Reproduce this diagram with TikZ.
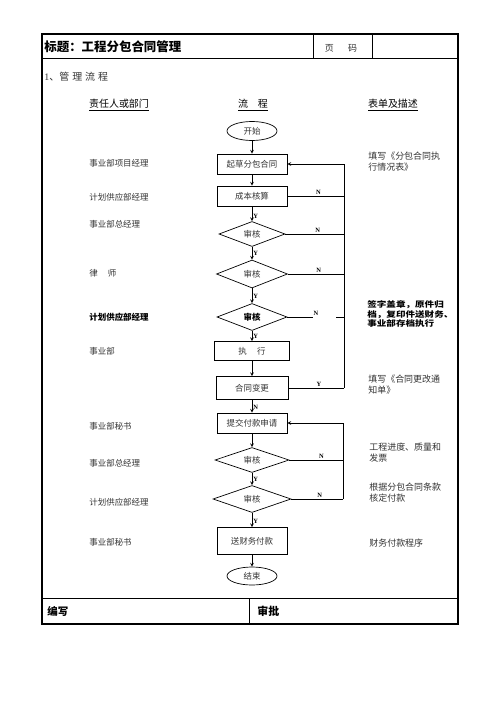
\documentclass[tikz,border=0pt]{standalone}
\usepackage{fontspec}
\setmainfont{Noto Sans CJK SC}
\newfontfamily\latinfont{Liberation Serif}
\usetikzlibrary{shapes,arrows,positioning}

\begin{document}
\begin{tikzpicture}[
        x=1bp, y=-1bp, >=stealth, line width=0.7bp,
        txt/.style={font=\fontsize{8.5}{10}\selectfont, text=black!80},
        box/.style={draw, rectangle, minimum width=70bp, minimum height=20bp,
                    inner sep=0pt, txt},
        decide/.style={draw, diamond, minimum width=70bp, minimum height=26bp,
                       inner sep=0pt, txt},
        term/.style={draw, ellipse, minimum width=50bp, minimum height=19bp,
                     inner sep=0pt, txt},
        who/.style={anchor=west, inner sep=0pt, txt},
        note/.style={anchor=west, align=left, inner sep=0pt,
                     font=\fontsize{9}{11}\selectfont, text=black!80},
        yn/.style={font=\latinfont\bfseries\fontsize{6.5}{7}\selectfont, inner sep=1pt},
        head/.style={font=\fontsize{10}{12}\selectfont, inner sep=0pt}
    ]
        \useasboundingbox (0,0) rectangle (496,702);

        % frame
        \draw[line width=1.2bp] (42,34) rectangle (458,624);
        \draw[line width=1bp] (42,59) -- (458,59);
        \draw[line width=1bp] (313,34) -- (313,59) (372,34) -- (372,59);
        \draw[line width=1bp] (42,598) -- (458,598) (249,598) -- (249,624);

        \node[anchor=west, inner sep=0pt, font=\fontsize{12.5}{14}\selectfont\bfseries]
            (title) at (44,47) {标题：工程分包合同管理};
        \node[txt, font=\fontsize{9}{10}\selectfont] (page) at (341,48) {页\hspace{1.6em}码};
        \node[anchor=west, inner sep=0pt, font=\fontsize{10}{12}\selectfont, text=black!80]
            (sec) at (44,77) {{\latinfont 1}、管\hspace{3bp}理\hspace{3bp}流\hspace{3bp}程};

        \node[head] (hwho)  at (119,105) {\underline{责任人或部门}};
        \node[head] (hflow) at (253,105) {\underline{流\hspace{1em}程}};
        \node[head] (hnote) at (393,105) {\underline{表单及描述}};

        % flow
        \node[term] (start) at (252,131) {开始};
        \node[box] (draft) at (252,164) {起草分包合同};
        \node[box] (cost) at (252,196) {成本核算};
        \node[decide, minimum width=66bp, minimum height=25bp] (chk1) at (252,234) {审核};
        \node[decide, minimum width=71bp, minimum height=28bp] (chk2) at (252,274) {审核};
        \node[decide, minimum height=27bp, font=\fontsize{8.5}{10}\selectfont\bfseries,
              text=black] (chk3) at (252,317) {审核};
        \node[box, minimum width=75bp, minimum height=19bp] (run) at (252,351) {执\hspace{1.2em}行};
        \node[box, minimum width=72bp, minimum height=23bp] (change) at (252,388) {合同变更};
        \node[box] (apply) at (252,423) {提交付款申请};
        \node[decide, minimum width=74bp, minimum height=25bp] (chk4) at (252,460) {审核};
        \node[decide, minimum width=78bp, minimum height=27bp] (chk5) at (252,499) {审核};
        \node[box, minimum height=27bp] (pay) at (252,541) {送财务付款};
        \node[term, minimum height=18bp] (finish) at (252,576) {结束};

        \coordinate (ra) at (344,0);
        \coordinate (rb) at (343,0);

        \draw[->] (start) -- (draft);
        \draw[->] (draft) -- (cost);
        \draw[->] (cost) -- node[yn, right, pos=0.7] {Y} (chk1);
        \draw[->] (chk1) -- node[yn, right] {Y} (chk2);
        \draw[->] (chk2) -- node[yn, right, pos=0.55] {Y} (chk3);
        \draw[->] (chk3) -- node[yn, right] {Y} (run);
        \draw[->] (run) -- (change);
        \draw[->] (change) -- node[yn, right, pos=0.6] {N} (apply);
        \draw[->] (apply) -- (chk4);
        \draw[->] (chk4) -- node[yn, right, pos=0.55] {Y} (chk5);
        \draw[->] (chk5) -- node[yn, right, pos=0.6] {Y} (pay);
        \draw[->] (pay) -- (finish);

        % loop back to drafting
        \draw (cost.east) -- node[yn, above, pos=0.55] {N} (cost.east -| ra);
        \draw (chk1.east) -- node[yn, above, pos=0.55] {N} (chk1.east -| ra);
        \draw (chk2.east) -- node[yn, above, pos=0.55] {N} (chk2.east -| ra);
        \draw (chk3.east) -- ++(26,0) node[yn, above right, xshift=-1bp] {N};
        \draw (chk3.east -| ra) -- ++(-8,0);
        \draw (change.east) -- node[yn, above, pos=0.55] {Y} (change.east -| ra);
        \draw[->] (change.east -| ra) -- (draft.east -| ra) -- (draft.east);

        % loop back to payment request
        \draw (chk4.east) -- node[yn, above, pos=0.6] {N} (chk4.east -| rb);
        \draw (chk5.east) -- node[yn, above, pos=0.55] {N} (chk5.east -| rb);
        \draw[->] (chk5.east -| rb) -- (apply.east -| rb) -- (apply.east);

        % who
        \node[who] (w1) at (89,163) {事业部项目经理};
        \node[who] (w2) at (89,197) {计划供应部经理};
        \node[who] (w3) at (89,224) {事业部总经理};
        \node[who] (w4) at (89,273) {律\hspace{1.2em}师};
        \node[who, font=\fontsize{8.5}{10}\selectfont\bfseries, text=black] (w5) at (89,317) {计划供应部经理};
        \node[who] (w6) at (89,351) {事业部};
        \node[who] (w7) at (89,426) {事业部秘书};
        \node[who] (w8) at (89,463) {事业部总经理};
        \node[who] (w9) at (89,502) {计划供应部经理};
        \node[who] (w10) at (89,542) {事业部秘书};

        % notes
        \node[note] (n1) at (368,162) {填写《分包合同执\\行情况表》};
        \node[note, font=\fontsize{8}{9.2}\selectfont\bfseries\addfontfeature{FakeStretch=1.2},
              text=black] (n2) at (367,314) {签字盖章，原件归\\档，复印件送财务、\\事业部存档执行};
        \node[note] (n3) at (368,385) {填写《合同更改通\\知单》};
        \node[note] (n4) at (369,453) {工程进度、质量和\\发票};
        \node[note] (n5) at (369,493) {根据分包合同条款\\核定付款};
        \node[note] (n6) at (369,543) {财务付款程序};

        % footer
        \node[anchor=west, inner sep=0pt, font=\fontsize{10.5}{12}\selectfont\bfseries]
            (write) at (47,611) {编写};
        \node[anchor=west, inner sep=0pt, font=\fontsize{11}{12}\selectfont\bfseries]
            (sign) at (257,611) {审批};
    \end{tikzpicture}
\end{document}
